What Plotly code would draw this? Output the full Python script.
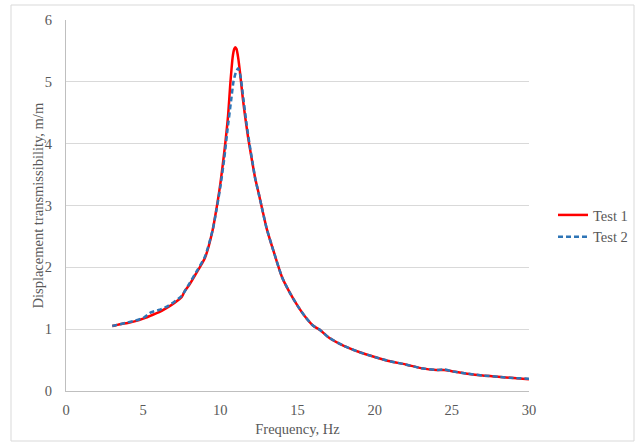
import plotly.graph_objects as go

freq1 = [3, 3.5, 4, 4.5, 5, 5.5, 6, 6.5, 7, 7.5, 7.7, 8, 8.5, 9, 9.5, 9.75, 10, 10.25, 10.5,
         10.65, 10.8, 10.9, 10.97, 11.05, 11.15, 11.28, 11.45, 11.6, 11.8, 12, 12.25, 12.5, 12.75,
         13, 13.5, 14, 14.5, 15, 15.5, 16, 16.5, 17, 18, 19, 20, 21, 22, 23, 24, 24.5, 25, 26,
         27, 28, 29, 30]
test1 = [1.05, 1.08, 1.10, 1.13, 1.17, 1.22, 1.27, 1.34, 1.42, 1.52, 1.62, 1.72, 1.93, 2.15, 2.6,
         2.95, 3.35, 3.85, 4.45, 4.98, 5.4, 5.53, 5.56, 5.53, 5.4, 5.14, 4.75, 4.45, 4.1, 3.8,
         3.45, 3.18, 2.9, 2.63, 2.22, 1.84, 1.59, 1.38, 1.2, 1.06, 0.98, 0.87, 0.73, 0.63, 0.55,
         0.48, 0.43, 0.37, 0.34, 0.34, 0.32, 0.28, 0.25, 0.23, 0.21, 0.19]

freq2 = [3, 3.5, 4, 4.5, 5, 5.5, 6, 6.5, 7, 7.5, 8, 8.5, 9, 9.5, 9.75, 10, 10.25, 10.5, 10.7,
         10.85, 11, 11.15, 11.3, 11.5, 11.7, 11.9, 12.1, 12.25, 12.5, 12.75, 13, 13.5, 14, 14.5,
         15, 15.5, 16, 16.5, 17, 18, 19, 20, 21, 22, 23, 24, 24.5, 25, 26, 27, 28, 29, 30]
test2 = [1.05, 1.08, 1.11, 1.14, 1.18, 1.27, 1.31, 1.36, 1.44, 1.54, 1.74, 1.95, 2.17, 2.6, 2.93,
         3.3, 3.75, 4.3, 4.7, 5.0, 5.15, 5.22, 5.1, 4.72, 4.32, 3.98, 3.68, 3.45, 3.18, 2.9, 2.63,
         2.22, 1.84, 1.59, 1.38, 1.2, 1.06, 0.98, 0.87, 0.73, 0.63, 0.55, 0.48, 0.43, 0.37, 0.34,
         0.35, 0.32, 0.28, 0.25, 0.23, 0.21, 0.20]

x_ticks = [0, 5, 10, 15, 20, 25, 30]
y_ticks = [0, 1, 2, 3, 4, 5, 6]
x_title = "Frequency, Hz"
y_title = "Displacement transmissibility, m/m"

FONT = "Liberation Serif, Times New Roman, serif"
GREY = "#595959"

fig = go.Figure()
fig.add_trace(go.Scatter(x=freq1, y=test1, mode="lines", name="Test 1",
                         line=dict(color="#FF0000", width=2.5, shape="spline", smoothing=0.6)))
fig.add_trace(go.Scatter(x=freq2, y=test2, mode="lines", name="Test 2",
                         line=dict(color="#2E75B6", width=2.5, dash="5px,3px", shape="spline", smoothing=0.6)))

L, R, T, B = 66, 110, 20, 56
W, H = 639, 447
pw, ph = W - L - R, H - T - B

def px_x(p):
    return (p - L) / pw

def px_y(p):
    return (H - B - p) / ph

fig.update_layout(
    width=W, height=H,
    margin=dict(l=L, r=R, t=T, b=B, autoexpand=False),
    paper_bgcolor="white", plot_bgcolor="white",
    font=dict(family=FONT, size=13, color=GREY),
    showlegend=True,
    legend=dict(xref="container", yref="container", x=553 / W, y=(H - 226) / H,
                xanchor="left", yanchor="middle",
                font=dict(family=FONT, size=14.5, color=GREY), bgcolor="rgba(0,0,0,0)",
                itemwidth=30, tracegroupgap=0),
    xaxis=dict(range=[0, 30], tickvals=x_ticks, showgrid=False, zeroline=False,
               showline=True, linecolor="#BFBFBF", linewidth=1, ticks="",
               ticklabelstandoff=6, automargin=False,
               title=dict(text=x_title, font=dict(family=FONT, size=14.5, color=GREY), standoff=6),
               tickfont=dict(family=FONT, size=14.5, color=GREY)),
    yaxis=dict(range=[0, 6], tickvals=y_ticks, showgrid=True, gridcolor="#D9D9D9", gridwidth=1,
               zeroline=False, showline=True, linecolor="#BFBFBF", linewidth=1, ticks="",
               ticklabelstandoff=10, automargin=False,
               tickfont=dict(family=FONT, size=14.5, color=GREY)),
    annotations=[dict(text=y_title, xref="paper", yref="paper", x=px_x(37), y=0.5,
                      textangle=-90, showarrow=False, xanchor="center", yanchor="middle",
                      font=dict(family=FONT, size=14.5, color=GREY))],
    shapes=[dict(type="rect", xref="paper", yref="paper",
                 x0=px_x(11), x1=px_x(634), y0=px_y(441), y1=px_y(5),
                 line=dict(color="#D9D9D9", width=1), fillcolor="rgba(0,0,0,0)", layer="below")],
)

fig.write_html("out.html")
